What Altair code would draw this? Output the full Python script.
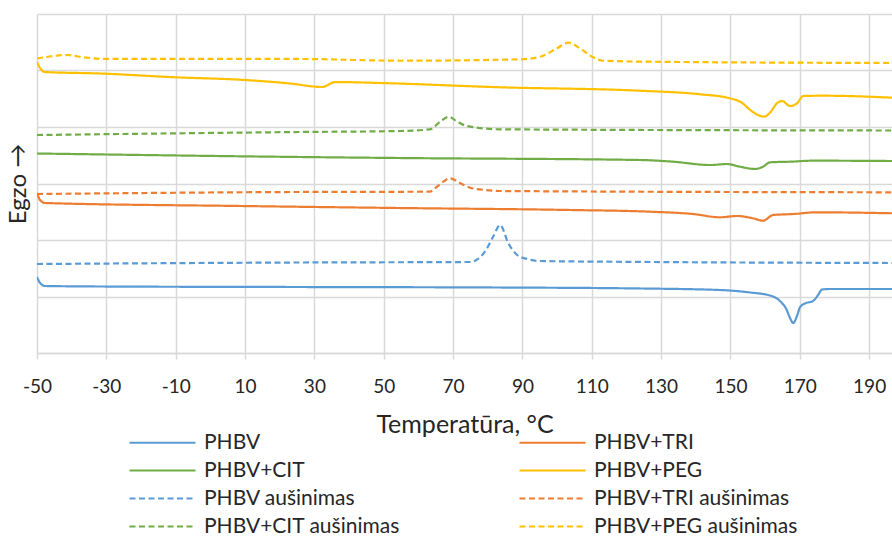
import altair as alt
import pandas as pd

# ---- data (temperature in °C, signal in arbitrary units, exo up) ----
phbv_T = [-50.0, -49.1, -47.7, -31.8, 25.9, 83.6, 123.9, 147.0, 155.7, 161.4, 164.3, 166.1, 167.2, 168.1, 169.2, 170.1, 171.8, 173.6, 175.3, 176.4, 178.8, 196.6]
phbv_v = [1.345, 1.239, 1.186, 1.177, 1.168, 1.159, 1.142, 1.115, 1.071, 1.018, 0.920, 0.779, 0.619, 0.531, 0.655, 0.814, 0.885, 0.912, 1.027, 1.124, 1.133, 1.133]

phbv_cool_T = [-50.0, 25.9, 74.9, 77.2, 79.5, 81.5, 83.6, 85.9, 88.5, 91.3, 95.1, 126.8, 196.6]
phbv_cool_v = [1.575, 1.602, 1.611, 1.664, 1.823, 2.053, 2.265, 1.947, 1.735, 1.664, 1.628, 1.611, 1.593]

tri_T = [-50.0, -49.1, -47.7, 8.6, 54.7, 103.8, 126.8, 139.2, 147.0, 151.9, 156.5, 159.4, 162.3, 168.1, 175.0, 196.6]
tri_v = [2.832, 2.708, 2.655, 2.602, 2.566, 2.531, 2.501, 2.460, 2.402, 2.425, 2.384, 2.342, 2.442, 2.460, 2.490, 2.473]

tri_cool_T = [-50.0, 25.9, 63.4, 64.2, 66.3, 69.1, 72.0, 74.9, 79.2, 83.6, 196.6]
tri_cool_v = [2.814, 2.850, 2.855, 2.885, 2.991, 3.092, 3.009, 2.926, 2.885, 2.867, 2.844]

cit_T = [-50.0, 25.9, 54.7, 123.9, 133.5, 144.1, 149.0, 152.8, 157.1, 159.4, 161.4, 167.2, 173.8, 196.6]
cit_v = [3.531, 3.469, 3.451, 3.416, 3.386, 3.327, 3.345, 3.297, 3.257, 3.297, 3.375, 3.386, 3.404, 3.398]

cit_cool_T = [-50.0, 25.9, 54.7, 63.4, 66.3, 68.8, 71.2, 74.0, 83.6, 196.6]
cit_cool_v = [3.858, 3.912, 3.929, 3.959, 4.094, 4.182, 4.094, 4.018, 3.959, 3.938]

peg_T = [-50.0, -49.1, -47.7, -31.8, -10.2, 10.0, 23.0, 32.2, 36.0, 48.9, 83.6, 123.9, 141.3, 149.9, 153.4, 155.7, 158.0, 159.7, 161.4, 163.5, 164.9, 167.2, 169.2, 171.0, 176.7, 196.6]
peg_v = [5.150, 5.044, 4.973, 4.947, 4.880, 4.832, 4.770, 4.708, 4.796, 4.779, 4.703, 4.642, 4.579, 4.508, 4.425, 4.301, 4.212, 4.182, 4.253, 4.425, 4.460, 4.372, 4.419, 4.549, 4.554, 4.519]

peg_cool_T = [-50.0, -46.3, -41.3, -36.7, -29.8, 25.9, 54.7, 89.3, 95.1, 100.0, 103.2, 106.6, 110.1, 113.3, 126.8, 196.6]
peg_cool_v = [5.212, 5.248, 5.274, 5.234, 5.204, 5.204, 5.173, 5.198, 5.244, 5.393, 5.492, 5.393, 5.244, 5.173, 5.156, 5.133]

series_names = ["PHBV", "PHBV+TRI", "PHBV+CIT", "PHBV+PEG",
                "PHBV aušinimas", "PHBV+TRI aušinimas", "PHBV+CIT aušinimas", "PHBV+PEG aušinimas"]
series_data = [(phbv_T, phbv_v), (tri_T, tri_v), (cit_T, cit_v), (peg_T, peg_v),
               (phbv_cool_T, phbv_cool_v), (tri_cool_T, tri_cool_v),
               (cit_cool_T, cit_cool_v), (peg_cool_T, peg_cool_v)]

x_ticks = [-50, -30, -10, 10, 30, 50, 70, 90, 110, 130, 150, 170, 190]
y_grid = [0, 1, 2, 3, 4, 5, 6]

colors = ["#5B9BD5", "#ED7D31", "#70AD47", "#FFC000",
          "#5B9BD5", "#ED7D31", "#70AD47", "#FFC000"]
dashes = [[1, 0], [1, 0], [1, 0], [1, 0], [6, 3.5], [6, 3.5], [6, 3.5], [6, 3.5]]

rows = []
for name, (ts, vs) in zip(series_names, series_data):
    for i, (t, v) in enumerate(zip(ts, vs)):
        rows.append({"series": name, "T": t, "v": v, "i": i})
df = pd.DataFrame(rows)

FONT = "Lato"
TXT = "#262626"
GRID = "#d9d9d9"

leg = alt.Legend(
    orient="none", legendX=114, legendY=417, columns=2, direction="horizontal", title=None,
    symbolType="M-3.3,0H3.3", symbolSize=400, symbolStrokeWidth=2.2,
    labelFont=FONT, labelFontSize=21, labelColor=TXT, labelLimit=500,
    labelOffset=30, rowPadding=6, columnPadding=115, padding=0,
)

chart = alt.Chart(df).mark_line(strokeWidth=2.2, interpolate="monotone", clip=True).encode(
    x=alt.X("T:Q",
            scale=alt.Scale(domain=[-50, 196.6], nice=False, zero=False),
            axis=alt.Axis(values=x_ticks, title="Temperatūra, °C", grid=True,
                          labelExpr="'' + datum.value",
                          gridColor=GRID, gridWidth=1.5,
                          domainColor=GRID, domainWidth=1.5,
                          tickColor=GRID, tickWidth=1.5, tickSize=6,
                          labelFont=FONT, labelFontSize=19, labelColor=TXT, labelPadding=18,
                          labelFlush=False,
                          titleFont=FONT, titleFontSize=25, titleFontWeight="normal",
                          titleColor=TXT, titlePadding=16)),
    y=alt.Y("v:Q",
            scale=alt.Scale(domain=[0, 6], nice=False, zero=False),
            axis=alt.Axis(values=y_grid, labels=False, ticks=False, domain=False, grid=True,
                          gridColor=GRID, gridWidth=1.5,
                          title="Egzo →", titleFont=FONT, titleFontSize=24,
                          titleFontWeight="normal", titleColor=TXT, titlePadding=7)),
    color=alt.Color("series:N", scale=alt.Scale(domain=series_names, range=colors), legend=leg),
    strokeDash=alt.StrokeDash("series:N", scale=alt.Scale(domain=series_names, range=dashes), legend=leg),
    order=alt.Order("i:Q"),
).properties(
    width=855, height=339,
    autosize=alt.AutoSizeParams(type="none"),
    padding={"left": 37, "top": 14, "right": 0, "bottom": 187},
).configure_view(stroke=None).configure(background="white")

chart.save("out.html", embed_options={"renderer": "svg", "actions": False})
